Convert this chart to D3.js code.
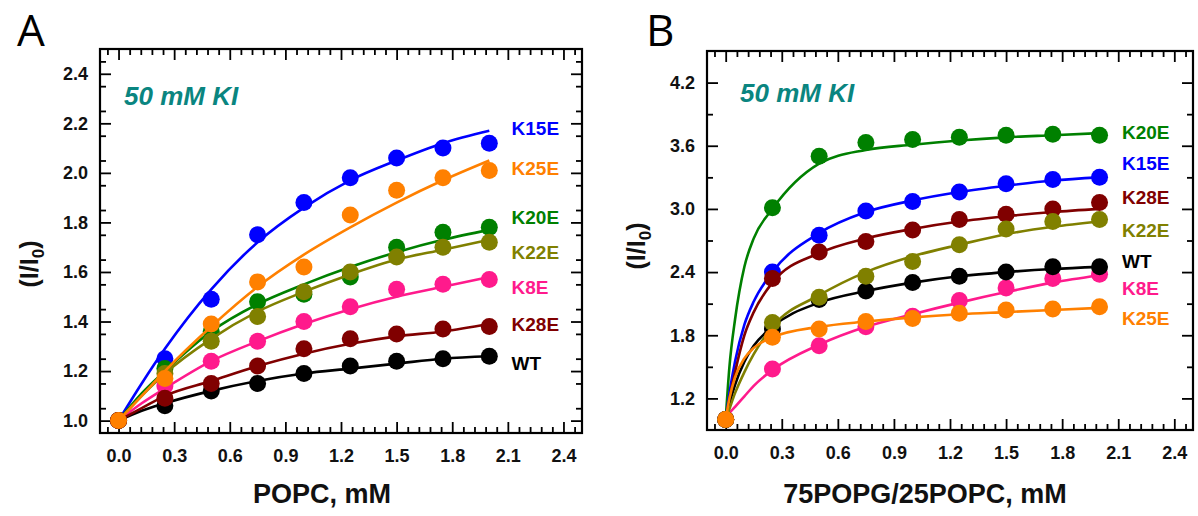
<!DOCTYPE html>
<html lang="en">
<head>
<meta charset="utf-8">
<title>I/I0 vs lipid, 50 mM KI</title>
<script src="https://d3js.org/d3.v7.min.js"></script>
<style>
  body { margin: 0; background: #fff; }
  svg text { font-family: "Liberation Sans", Arial, Helvetica, sans-serif; }
</style>
</head>
<body>
<div id="chart"></div>
<script>
// lipid concentrations of the measured points (mM)
var lipidMM = [0, 0.25, 0.5, 0.75, 1.0, 1.25, 1.5, 1.75, 2.0];

// panel A - POPC, measured I/I0
var popcWT   = [1.00, 1.06, 1.12, 1.15, 1.19, 1.22, 1.24, 1.25, 1.26];
var popcK8E  = [1.00, 1.14, 1.24, 1.32, 1.40, 1.46, 1.53, 1.55, 1.57];
var popcK15E = [1.00, 1.25, 1.49, 1.75, 1.88, 1.98, 2.06, 2.10, 2.12];
var popcK20E = [1.00, 1.21, 1.36, 1.48, 1.51, 1.58, 1.70, 1.76, 1.78];
var popcK22E = [1.00, 1.19, 1.32, 1.42, 1.52, 1.60, 1.66, 1.70, 1.72];
var popcK25E = [1.00, 1.17, 1.39, 1.56, 1.62, 1.83, 1.93, 1.98, 2.01];
var popcK28E = [1.00, 1.09, 1.15, 1.22, 1.29, 1.33, 1.35, 1.37, 1.38];

// panel A - fitted curves
var popcFitX    = [0, 0.125, 0.25, 0.5, 0.75, 1.0, 1.25, 1.5, 1.75, 2.0];
var popcFitWT   = [1.00, 1.04, 1.07, 1.12, 1.16, 1.19, 1.21, 1.23, 1.25, 1.26];
var popcFitK8E  = [1.00, 1.07, 1.13, 1.24, 1.32, 1.39, 1.45, 1.50, 1.54, 1.58];
var popcFitK15E = [1.00, 1.15, 1.29, 1.53, 1.72, 1.86, 1.97, 2.05, 2.12, 2.17];
var popcFitK20E = [1.00, 1.11, 1.20, 1.36, 1.47, 1.55, 1.62, 1.68, 1.73, 1.77];
var popcFitK22E = [1.00, 1.10, 1.19, 1.33, 1.44, 1.52, 1.59, 1.65, 1.69, 1.73];
var popcFitK25E = [1.00, 1.10, 1.20, 1.38, 1.54, 1.67, 1.78, 1.88, 1.97, 2.05];
var popcFitK28E = [1.00, 1.05, 1.10, 1.16, 1.22, 1.27, 1.31, 1.34, 1.36, 1.39];

// panel B - 75POPG/25POPC, measured I/I0
var pgWT   = [1.00, 1.86, 2.14, 2.22, 2.30, 2.36, 2.40, 2.45, 2.45];
var pgK8E  = [1.00, 1.48, 1.70, 1.88, 1.98, 2.13, 2.25, 2.34, 2.38];
var pgK15E = [1.00, 2.40, 2.75, 2.98, 3.07, 3.16, 3.24, 3.28, 3.30];
var pgK20E = [1.00, 3.01, 3.50, 3.63, 3.66, 3.68, 3.70, 3.71, 3.70];
var pgK22E = [1.00, 1.92, 2.16, 2.36, 2.50, 2.66, 2.81, 2.88, 2.90];
var pgK25E = [1.00, 1.78, 1.86, 1.93, 1.96, 2.01, 2.04, 2.05, 2.07];
var pgK28E = [1.00, 2.34, 2.59, 2.69, 2.80, 2.90, 2.95, 3.00, 3.06];

// panel B - fitted curves
var pgFitX    = [0, 0.02, 0.05, 0.1, 0.15, 0.25, 0.5, 0.75, 1.0, 1.25, 1.5, 1.75, 2.0];
var pgFitWT   = [1.00, 1.15, 1.33, 1.55, 1.70, 1.88, 2.11, 2.22, 2.30, 2.36, 2.40, 2.43, 2.45];
var pgFitK8E  = [1.00, 1.06, 1.12, 1.22, 1.32, 1.47, 1.71, 1.88, 2.00, 2.11, 2.21, 2.30, 2.37];
var pgFitK15E = [1.00, 1.25, 1.55, 1.90, 2.12, 2.40, 2.77, 2.97, 3.08, 3.16, 3.22, 3.27, 3.30];
var pgFitK20E = [1.00, 1.50, 1.95, 2.45, 2.72, 3.00, 3.43, 3.56, 3.61, 3.65, 3.68, 3.70, 3.72];
var pgFitK22E = [1.00, 1.10, 1.25, 1.45, 1.62, 1.88, 2.18, 2.40, 2.55, 2.66, 2.76, 2.83, 2.88];
var pgFitK25E = [1.00, 1.20, 1.40, 1.58, 1.68, 1.78, 1.88, 1.93, 1.97, 2.00, 2.02, 2.04, 2.06];
var pgFitK28E = [1.00, 1.20, 1.45, 1.80, 2.02, 2.30, 2.58, 2.72, 2.81, 2.88, 2.93, 2.97, 3.00];

// tick labels
var xTicks  = [0.0, 0.3, 0.6, 0.9, 1.2, 1.5, 1.8, 2.1, 2.4];
var yTicksA = [1.0, 1.2, 1.4, 1.6, 1.8, 2.0, 2.2, 2.4];
var yTicksB = [1.2, 1.8, 2.4, 3.0, 3.6, 4.2];

var colors = {
    WT: "#000000", K8E: "#ff1a8c", K15E: "#0000ff", K20E: "#008000",
    K22E: "#808000", K25E: "#ff8000", K28E: "#800000"
};

var w = 1198, h = 516;
var svg = d3.select("#chart").append("svg")
    .attr("width", w)
    .attr("height", h);

var fmt = d3.format(".1f");

var drawPanel = function (p) {
    var x = d3.scaleLinear().domain(p.xDomain).range([p.left, p.right]);
    var y = d3.scaleLinear().domain(p.yDomain).range([p.bottom, p.top]);
    var g = svg.append("g");

    var xMinor = d3.range(-0.06, 2.47, 0.06).filter(function (v) {
        return Math.abs(v / 0.3 - Math.round(v / 0.3)) > 0.01;
    });
    var yMinor = d3.range(p.yDomain[0] + p.yMinorStep, p.yDomain[1] - 0.01, p.yMinorStep)
        .filter(function (v) {
            return p.yTicks.every(function (t) { return Math.abs(t - v) > 0.01; });
        });

    var axes = [
        [d3.axisBottom(x).tickValues(xTicks).tickSize(-11).tickPadding(16).tickFormat(fmt), 0, p.bottom],
        [d3.axisBottom(x).tickValues(xMinor).tickSize(-6).tickFormat(""), 0, p.bottom],
        [d3.axisTop(x).tickValues(xTicks).tickSize(-11).tickFormat(""), 0, p.top],
        [d3.axisTop(x).tickValues(xMinor).tickSize(-6).tickFormat(""), 0, p.top],
        [d3.axisLeft(y).tickValues(p.yTicks).tickSize(-11).tickPadding(12).tickFormat(fmt), p.left, 0],
        [d3.axisLeft(y).tickValues(yMinor).tickSize(-6).tickFormat(""), p.left, 0],
        [d3.axisRight(y).tickValues(p.yTicks).tickSize(-11).tickFormat(""), p.right, 0],
        [d3.axisRight(y).tickValues(yMinor).tickSize(-6).tickFormat(""), p.right, 0]
    ];
    axes.forEach(function (a) {
        var ag = g.append("g")
            .attr("transform", "translate(" + a[1] + "," + a[2] + ")")
            .call(a[0]);
        ag.select(".domain").remove();
        ag.selectAll("line").attr("stroke", "#000").attr("stroke-width", 1.8);
        ag.selectAll("text")
            .attr("font-size", 18)
            .attr("font-weight", "bold")
            .attr("fill", "#111")
            .style("font-family", '"Liberation Sans", Arial, sans-serif');
    });

    // frame
    g.append("rect")
        .attr("x", p.left)
        .attr("y", p.top)
        .attr("width", p.right - p.left)
        .attr("height", p.bottom - p.top)
        .attr("fill", "none")
        .attr("stroke", "#000")
        .attr("stroke-width", 2.2);

    var line = d3.line()
        .x(function (d) { return x(d[0]); })
        .y(function (d) { return y(d[1]); })
        .curve(d3.curveMonotoneX);

    p.series.forEach(function (s) {
        g.append("path")
            .datum(d3.zip(p.fitX, s.fit))
            .attr("d", line)
            .attr("fill", "none")
            .attr("stroke", colors[s.name])
            .attr("stroke-width", 2.6);

        g.selectAll(null)
            .data(d3.zip(lipidMM, s.pts))
            .enter()
            .append("circle")
            .attr("cx", function (d) { return x(d[0]); })
            .attr("cy", function (d) { return y(d[1]); })
            .attr("r", 8.5)
            .attr("fill", colors[s.name]);
    });

    // series labels at the right
    p.labels.forEach(function (l) {
        g.append("text")
            .attr("x", x(2.12))
            .attr("y", y(l[1]))
            .attr("dy", "0.36em")
            .attr("font-size", 19)
            .attr("font-weight", "bold")
            .attr("fill", colors[l[0]])
            .text(l[0]);
    });

    // salt condition
    g.append("text")
        .attr("x", p.left + p.saltDx)
        .attr("y", p.top + p.saltDy)
        .attr("font-size", 26)
        .attr("font-weight", "bold")
        .attr("font-style", "italic")
        .attr("fill", "#0a8580")
        .text("50 mM KI");

    // axis titles
    g.append("text")
        .attr("x", p.titleX)
        .attr("y", 503)
        .attr("text-anchor", "middle")
        .attr("font-size", 27)
        .attr("font-weight", "bold")
        .attr("fill", "#111")
        .text(p.xTitle);

    var yt = g.append("text")
        .attr("transform", "translate(" + p.yTitleX + "," + p.yTitleY + ") rotate(-90)")
        .attr("text-anchor", "middle")
        .attr("font-size", 25)
        .attr("font-weight", "bold")
        .attr("fill", "#111");
    yt.append("tspan").text("(I/I");
    yt.append("tspan").attr("font-size", 17).attr("dy", 6).text("0");
    yt.append("tspan").attr("dy", -6).text(")");

    // panel letter
    svg.append("text")
        .attr("x", p.letterX)
        .attr("y", 46)
        .attr("font-size", 44)
        .attr("fill", "#000")
        .style("font-family", '"Open Sans", "Liberation Sans", Arial, sans-serif')
        .text(p.letter);
};

drawPanel({
    letter: "A", letterX: 17,
    left: 100, right: 582, top: 49, bottom: 433,
    xDomain: [-0.1, 2.5], yDomain: [0.95, 2.5],
    yTicks: yTicksA, yMinorStep: 0.1,
    fitX: popcFitX,
    series: [
        { name: "K15E", pts: popcK15E, fit: popcFitK15E },
        { name: "K20E", pts: popcK20E, fit: popcFitK20E },
        { name: "K22E", pts: popcK22E, fit: popcFitK22E },
        { name: "K8E",  pts: popcK8E,  fit: popcFitK8E },
        { name: "WT",   pts: popcWT,   fit: popcFitWT },
        { name: "K28E", pts: popcK28E, fit: popcFitK28E },
        { name: "K25E", pts: popcK25E, fit: popcFitK25E }
    ],
    labels: [["K15E", 2.18], ["K25E", 2.02], ["K20E", 1.82], ["K22E", 1.68],
             ["K8E", 1.54], ["K28E", 1.39], ["WT", 1.23]],
    saltDx: 24, saltDy: 56,
    xTitle: "POPC, mM", titleX: 322,
    yTitleX: 38, yTitleY: 264
});

drawPanel({
    letter: "B", letterX: 646,
    left: 707, right: 1193, top: 51, bottom: 430,
    xDomain: [-0.1, 2.5], yDomain: [0.9, 4.5],
    yTicks: yTicksB, yMinorStep: 0.3,
    fitX: pgFitX,
    series: [
        { name: "K20E", pts: pgK20E, fit: pgFitK20E },
        { name: "K15E", pts: pgK15E, fit: pgFitK15E },
        { name: "K28E", pts: pgK28E, fit: pgFitK28E },
        { name: "K8E",  pts: pgK8E,  fit: pgFitK8E },
        { name: "WT",   pts: pgWT,   fit: pgFitWT },
        { name: "K22E", pts: pgK22E, fit: pgFitK22E },
        { name: "K25E", pts: pgK25E, fit: pgFitK25E }
    ],
    labels: [["K20E", 3.73], ["K15E", 3.43], ["K28E", 3.11], ["K22E", 2.80],
             ["WT", 2.50], ["K8E", 2.25], ["K25E", 1.96]],
    saltDx: 33, saltDy: 51,
    xTitle: "75POPG/25POPC, mM", titleX: 925,
    yTitleX: 645, yTitleY: 246
});
</script>
</body>
</html>
